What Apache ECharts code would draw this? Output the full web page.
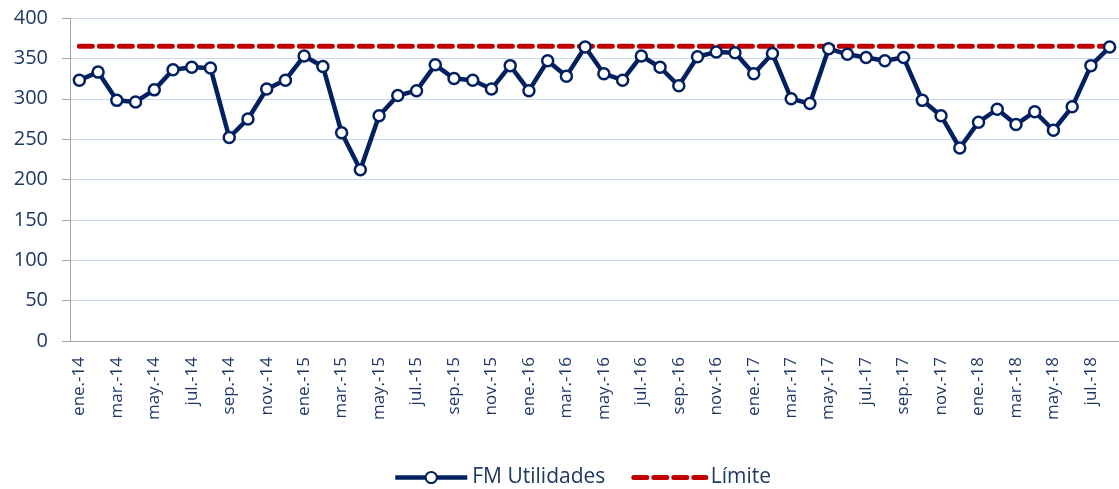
<!DOCTYPE html>
<html>
<head>
<meta charset="utf-8">
<script src="https://cdn.jsdelivr.net/npm/echarts@6/dist/echarts.min.js"></script>
<style>
  html, body { margin: 0; padding: 0; background: #fff; }
  #chart { width: 1119px; height: 489px; }
</style>
</head>
<body>
<div id="chart"></div>
<script>
// meses ene.-14 .. ago.-18
const months = ['ene.', 'feb.', 'mar.', 'abr.', 'may.', 'jun.', 'jul.', 'ago.', 'sep.', 'oct.', 'nov.', 'dic.']
const years = ['14', '15', '16', '17', '18']
const categories = []
years.forEach(y => months.forEach(m => categories.push(m + '-' + y)))
categories.length = 56

const fmUtilidades = [
  323, 333, 298, 296, 311, 336, 339, 338, 252, 275, 312, 323,
  353, 340, 258, 212, 279, 304, 310, 342, 325, 323, 312, 341,
  310, 347, 328, 364, 331, 323, 353, 339, 316, 352, 358, 357,
  331, 356, 300, 294, 362, 355, 351, 347, 351, 298, 279, 239,
  271, 287, 268, 284, 261, 290, 341, 364
]
const limiteValue = 365
const limite = categories.map(() => limiteValue)

const yTicks = { min: 0, max: 400, interval: 50 }

const navy = '#002060'
const red = '#c00000'
const textColor = '#1f3864'

const chart = echarts.init(document.getElementById('chart'))

chart.setOption({
  animation: false,
  textStyle: { fontFamily: 'Open Sans' },
  grid: {
    left: 70,
    top: 18,
    height: 323,
    width: 1057
  },
  legend: {
    left: 388,
    top: 462,
    itemWidth: 72,
    itemHeight: 14,
    itemGap: 26,
    textStyle: { color: textColor, fontSize: 21, fontFamily: 'Open Sans' },
    data: [
      {
        name: 'FM Utilidades',
        lineStyle: { color: navy, width: 4.5 },
        itemStyle: { color: '#fff', borderColor: navy, borderWidth: 2 }
      },
      {
        name: 'Límite',
        lineStyle: { color: red, width: 5, type: [13, 7], cap: 'round' },
        itemStyle: { color: 'rgba(0,0,0,0)', borderWidth: 0 }
      }
    ]
  },
  xAxis: {
    type: 'category',
    data: categories,
    boundaryGap: true,
    axisLine: { lineStyle: { color: '#a6a6a6', width: 1 } },
    axisTick: { interval: 1, length: 8, lineStyle: { color: '#a6a6a6' } },
    axisLabel: {
      interval: 1,
      rotate: 90,
      margin: 16,
      color: textColor,
      fontSize: 17,
      fontFamily: 'Open Sans'
    }
  },
  yAxis: {
    type: 'value',
    min: yTicks.min,
    max: yTicks.max,
    interval: yTicks.interval,
    axisLine: { show: true, lineStyle: { color: '#a6a6a6', width: 1 } },
    axisTick: { show: true, length: 8, lineStyle: { color: '#a6a6a6' } },
    axisLabel: { color: textColor, fontSize: 20, margin: 22, fontFamily: 'Open Sans' },
    splitLine: { lineStyle: { color: '#c6d9f1', width: 1 } }
  },
  series: [
    {
      name: 'FM Utilidades',
      type: 'line',
      data: fmUtilidades,
      symbol: 'circle',
      symbolSize: 11,
      lineStyle: { color: navy, width: 4.5 },
      itemStyle: { color: '#fff', borderColor: navy, borderWidth: 2.5 },
      z: 3
    },
    {
      name: 'Límite',
      type: 'line',
      data: limite,
      symbol: 'none',
      lineStyle: { color: red, width: 5, type: [13, 7], cap: 'round' },
      itemStyle: { color: red },
      z: 2
    }
  ]
})
</script>
</body>
</html>
